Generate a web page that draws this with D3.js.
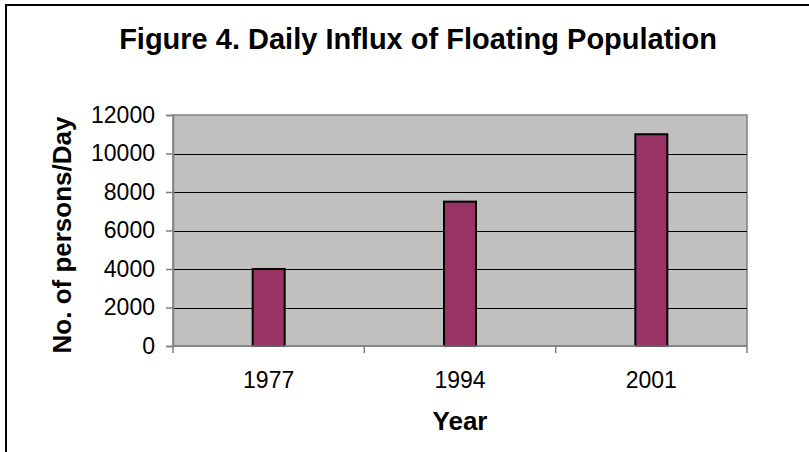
<!DOCTYPE html>
<html>
<head>
<meta charset="utf-8">
<script src="https://cdn.jsdelivr.net/npm/d3@7.9.0/dist/d3.min.js"></script>
<style>
    body { margin: 0; background: #fff; }
    svg { display: block; font-family: "Liberation Sans", Arial, sans-serif; }
</style>
</head>
<body>
<svg id="chart" width="809" height="452"></svg>
<script>
// chart data
const years = ["1977", "1994", "2001"];
const personsPerDay = [4000, 7500, 11000];
const yTicks = [0, 2000, 4000, 6000, 8000, 10000, 12000];

const svg = d3.select("#chart");
const plot = { left: 173, top: 115, right: 747, bottom: 346 };

// outer frame of the chart object
svg.append("rect")
    .attr("x", 6).attr("y", 5)
    .attr("width", 820).attr("height", 460)
    .attr("fill", "#fff")
    .attr("stroke", "#000")
    .attr("stroke-width", 2);

const x = d3.scaleBand()
    .domain(years)
    .range([plot.left, plot.right])
    .paddingInner(0)
    .paddingOuter(0);

const y = d3.scaleLinear()
    .domain([0, 12000])
    .range([plot.bottom, plot.top]);

// plot area background
svg.append("rect")
    .attr("x", plot.left).attr("y", plot.top)
    .attr("width", plot.right - plot.left)
    .attr("height", plot.bottom - plot.top)
    .attr("fill", "#c0c0c0")
    .attr("stroke", "#808080")
    .attr("stroke-width", 1.5);

// gridlines
svg.append("g")
    .selectAll("line")
    .data(yTicks.filter(d => d > 0 && d < 12000))
    .join("line")
    .attr("x1", plot.left).attr("x2", plot.right)
    .attr("y1", d => Math.round(y(d)) + 0.5)
    .attr("y2", d => Math.round(y(d)) + 0.5)
    .attr("stroke", "#000")
    .attr("stroke-width", 1);

// bars
const barW = 32;
svg.append("g")
    .selectAll("rect")
    .data(years)
    .join("rect")
    .attr("x", d => x(d) + x.bandwidth() / 2 - barW / 2)
    .attr("y", (d, i) => y(personsPerDay[i]))
    .attr("width", barW)
    .attr("height", (d, i) => plot.bottom - y(personsPerDay[i]))
    .attr("fill", "#993366")
    .attr("stroke", "#000")
    .attr("stroke-width", 2);

// y axis
const yAxis = svg.append("g")
    .attr("transform", `translate(${plot.left},0)`)
    .call(d3.axisLeft(y).tickValues(yTicks).tickSize(7).tickPadding(11).tickFormat(d3.format("d")));
yAxis.select(".domain").attr("stroke", "#808080").attr("stroke-width", 1.5);
yAxis.selectAll(".tick line").attr("stroke", "#808080").attr("stroke-width", 1.5);
yAxis.selectAll(".tick text")
    .attr("font-size", 23)
    .attr("font-family", "Liberation Sans, Arial, sans-serif")
    .attr("fill", "#000");

// x axis: ticks sit on the category boundaries
const xAxis = svg.append("g")
    .attr("transform", `translate(0,${plot.bottom})`);
xAxis.append("line")
    .attr("x1", plot.left).attr("x2", plot.right)
    .attr("stroke", "#808080").attr("stroke-width", 1.5);
const bounds = years.map(d => x(d)).concat([plot.right]);
xAxis.selectAll(".xt")
    .data(bounds)
    .join("line")
    .attr("class", "xt")
    .attr("x1", d => d).attr("x2", d => d)
    .attr("y1", 0).attr("y2", 7)
    .attr("stroke", "#808080").attr("stroke-width", 1.5);
xAxis.selectAll(".xl")
    .data(years)
    .join("text")
    .attr("class", "xl")
    .attr("x", d => x(d) + x.bandwidth() / 2)
    .attr("y", 42)
    .attr("text-anchor", "middle")
    .attr("font-size", 23)
    .text(d => d);

// titles
svg.append("text")
    .attr("x", 418).attr("y", 49)
    .attr("text-anchor", "middle")
    .attr("font-size", 29)
    .attr("font-weight", "bold")
    .text("Figure 4. Daily Influx of Floating Population");

svg.append("text")
    .attr("x", (plot.left + plot.right) / 2).attr("y", 430)
    .attr("text-anchor", "middle")
    .attr("font-size", 26)
    .attr("font-weight", "bold")
    .text("Year");

svg.append("text")
    .attr("transform", "translate(71,235) rotate(-90)")
    .attr("text-anchor", "middle")
    .attr("font-size", 26)
    .attr("font-weight", "bold")
    .text("No. of persons/Day");
</script>
</body>
</html>
